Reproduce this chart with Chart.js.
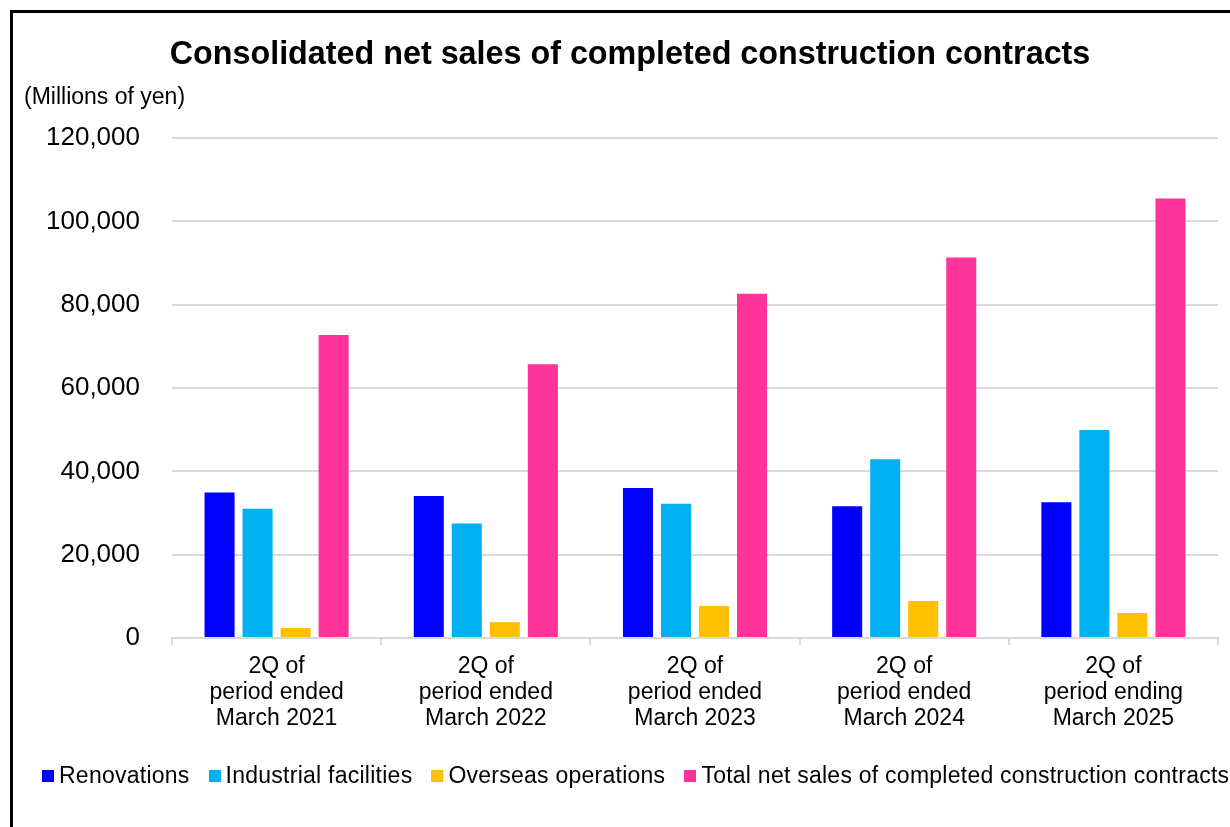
<!DOCTYPE html>
<html>
<head>
<meta charset="utf-8">
<script src="https://cdn.jsdelivr.net/npm/chart.js@4"></script>
<style>
    body { margin: 0; background: #fff; font-family: 'Liberation Sans', Arial, sans-serif; }
    #frame { position: absolute; left: 10px; top: 10px; width: 1300px; height: 900px;
             border-left: 3px solid #000; border-top: 3px solid #000; }
    #chartTitle { position: absolute; left: 30px; width: 1200px; top: 37px; text-align: center;
                  font-weight: bold; font-size: 32.3px; line-height: 1; white-space: nowrap; color: #000; }
    #unit { position: absolute; left: 24px; top: 85px; font-size: 23px; line-height: 1; color: #000; }
    #legend { position: absolute; left: 42px; top: 764px; display: flex; align-items: center;
              font-size: 23px; line-height: 1; white-space: nowrap; color: #000; letter-spacing: 0.25px; }
    #legend .item { display: flex; align-items: center; margin-right: 19px; }
    #legend .box { width: 12px; height: 12px; margin-right: 5px; }
</style>
</head>
<body>
<div id="frame"></div>
<canvas id="salesChart" width="1230" height="827"></canvas>
<div id="chartTitle">Consolidated net sales of completed construction contracts</div>
<div id="unit">(Millions of yen)</div>
<div id="legend"></div>
<script>
const categories = [
    ['2Q of', 'period ended', 'March 2021'],
    ['2Q of', 'period ended', 'March 2022'],
    ['2Q of', 'period ended', 'March 2023'],
    ['2Q of', 'period ended', 'March 2024'],
    ['2Q of', 'period ending', 'March 2025']
];
const renovations = [34900, 34100, 36000, 31600, 32600];
const industrial = [31000, 27500, 32200, 42900, 49900];
const overseas = [2400, 3800, 7700, 8900, 6000];
const totalSales = [72700, 65700, 82600, 91300, 105500];
const yTicks = [0, 20000, 40000, 60000, 80000, 100000, 120000];

const canvas = document.getElementById('salesChart');
canvas.style.position = 'absolute';
canvas.style.left = '0';
canvas.style.top = '0';
const ctx = canvas.getContext('2d');
const fontFamily = "'Liberation Sans', Arial, sans-serif";

function makeSet(label, values, color) {
    return {
        label: label,
        data: values,
        backgroundColor: color,
        borderWidth: 0,
        categoryPercentage: 0.727,
        barPercentage: 0.79
    };
}

const salesChart = new Chart(ctx, {
    type: 'bar',
    data: {
        labels: categories,
        datasets: [
            makeSet('Renovations', renovations, '#0000ff'),
            makeSet('Industrial facilities', industrial, '#00b0f0'),
            makeSet('Overseas operations', overseas, '#ffc000'),
            makeSet('Total net sales of completed construction contracts', totalSales, '#ff3399')
        ]
    },
    options: {
        responsive: false,
        animation: false,
        devicePixelRatio: 1,
        layout: { padding: { top: 138, left: 0, right: 12, bottom: 0 } },
        plugins: {
            legend: { display: false },
            title: { display: false },
            tooltip: { enabled: false }
        },
        scales: {
            x: {
                grid: {
                    offset: true,
                    drawOnChartArea: false,
                    drawTicks: true,
                    tickLength: 7,
                    color: '#d9d9d9',
                    lineWidth: 2
                },
                border: { display: true, color: '#d9d9d9', width: 2 },
                ticks: {
                    color: '#000',
                    padding: 8,
                    maxRotation: 0,
                    autoSkip: false,
                    font: { family: fontFamily, size: 23, lineHeight: 1.15 }
                },
                afterFit: function(scale) { scale.height = 189; }
            },
            y: {
                min: 0,
                max: 120000,
                afterBuildTicks: function(scale) {
                    scale.ticks = yTicks.map(v => ({ value: v }));
                },
                grid: { color: '#d9d9d9', lineWidth: 2, drawTicks: false },
                border: { display: false },
                ticks: {
                    color: '#000',
                    padding: 32,
                    font: { family: fontFamily, size: 26 },
                    callback: function(value) { return value.toLocaleString('en-US'); }
                },
                afterFit: function(scale) { scale.width = 172; }
            }
        }
    }
});

// Build the legend from the chart's own datasets
const legendDiv = document.getElementById('legend');
salesChart.data.datasets.forEach(function(ds) {
    const item = document.createElement('div');
    item.className = 'item';
    const box = document.createElement('span');
    box.className = 'box';
    box.style.background = ds.backgroundColor;
    const text = document.createElement('span');
    text.textContent = ds.label;
    item.appendChild(box);
    item.appendChild(text);
    legendDiv.appendChild(item);
});
</script>
</body>
</html>
